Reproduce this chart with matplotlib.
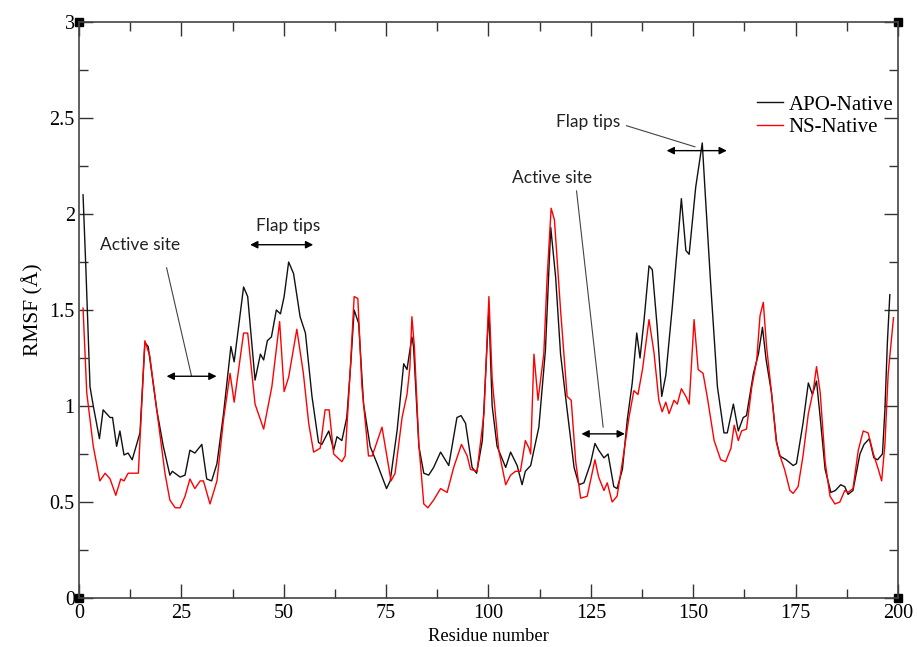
import matplotlib
matplotlib.use("Agg")
import matplotlib.pyplot as plt
from matplotlib.ticker import MultipleLocator

# values (residue, RMSF in Angstrom)
apo_res = [1.0, 1.7, 2.7, 3.5, 5.0, 5.9, 7.6, 8.2, 9.2, 10.0, 11.0, 12.0, 13.0, 14.9,
           16.1, 16.9, 19.0, 20.6, 22.2, 22.8, 24.7, 25.9, 27.1, 28.3, 30.0, 31.2,
           32.4, 33.7, 35.3, 37.1, 37.9, 40.2, 41.2, 43.0, 44.3, 45.1, 46.0, 47.0,
           48.2, 49.2, 50.1, 51.2, 52.4, 54.0, 55.3, 56.9, 58.5, 59.3, 61.0, 62.2,
           63.0, 64.2, 65.4, 66.4, 67.2, 68.3, 69.5, 71.1, 72.8, 75.1, 76.0, 77.7,
           79.3, 80.1, 81.3, 81.7, 83.0, 84.2, 85.4, 86.6, 88.3, 90.3, 92.3, 93.3,
           94.4, 96.0, 97.1, 98.5, 99.7, 100.1, 100.9, 102.1, 104.2, 105.4, 107.0,
           108.2, 109.0, 110.3, 112.3, 113.9, 115.2, 116.4, 117.6, 119.2, 120.9,
           122.1, 123.3, 124.9, 126.0, 126.9, 128.2, 129.2, 130.6, 131.4, 132.7,
           133.9, 135.1, 136.2, 137.0, 138.0, 139.2, 140.0, 141.2, 142.3, 143.3,
           144.9, 147.1, 148.2, 149.0, 150.6, 152.2, 153.0, 154.3, 155.9, 157.5,
           158.3, 159.8, 161.0, 162.2, 163.0, 164.7, 165.9, 166.9, 167.8, 169.1,
           170.3, 171.1, 172.7, 174.4, 175.2, 176.8, 178.1, 179.1, 180.1, 181.0,
           182.2, 183.6, 184.7, 186.0, 187.0, 187.8, 189.0, 190.7, 191.7, 193.0,
           194.1, 195.0, 196.2, 196.8, 197.4, 198.0]
apo_rmsf = [2.10, 1.71, 1.10, 1.00, 0.83, 0.98, 0.94, 0.94, 0.79, 0.87, 0.745, 0.755, 0.72, 0.86,
            1.33, 1.31, 0.98, 0.79, 0.64, 0.66, 0.63, 0.64, 0.77, 0.755, 0.80, 0.62,
            0.61, 0.70, 0.96, 1.31, 1.23, 1.62, 1.57, 1.135, 1.27, 1.24, 1.34, 1.36,
            1.50, 1.48, 1.57, 1.75, 1.69, 1.465, 1.38, 1.05, 0.81, 0.80, 0.87, 0.77,
            0.84, 0.82, 0.94, 1.23, 1.50, 1.43, 1.01, 0.79, 0.70, 0.57, 0.61, 0.875,
            1.22, 1.19, 1.36, 1.31, 0.79, 0.65, 0.64, 0.68, 0.76, 0.69, 0.94, 0.95,
            0.91, 0.68, 0.65, 0.82, 1.34, 1.50, 1.00, 0.79, 0.68, 0.76, 0.69,
            0.59, 0.66, 0.69, 0.89, 1.29, 1.93, 1.67, 1.27, 0.98, 0.68,
            0.59, 0.60, 0.70, 0.805, 0.77, 0.73, 0.75, 0.58, 0.57, 0.67,
            0.93, 1.12, 1.38, 1.25, 1.45, 1.73, 1.71, 1.41, 1.05, 1.16,
            1.52, 2.08, 1.81, 1.79, 2.14, 2.37, 2.08, 1.62, 1.10, 0.86,
            0.86, 1.01, 0.87, 0.94, 0.95, 1.17, 1.27, 1.41, 1.24, 1.07,
            0.82, 0.74, 0.72, 0.69, 0.70, 0.91, 1.12, 1.06, 1.13, 0.94,
            0.67, 0.55, 0.56, 0.59, 0.58, 0.54, 0.56, 0.75, 0.80, 0.83,
            0.73, 0.72, 0.75, 0.98, 1.33, 1.58]

ns_res = [1.0, 1.9, 3.5, 5.1, 6.4, 7.6, 9.0, 10.2, 11.0, 12.0, 14.5, 16.1, 17.3, 19.0,
          21.0, 22.2, 23.5, 24.7, 25.9, 27.1, 28.3, 29.6, 30.4, 32.0, 33.7, 35.3,
          36.9, 37.9, 40.2, 41.2, 43.0, 45.1, 47.1, 49.0, 50.1, 51.2, 53.2, 54.8,
          56.1, 57.3, 58.9, 60.1, 61.1, 62.2, 64.2, 65.0, 66.2, 67.2, 68.1, 69.1,
          70.7, 71.6, 74.0, 76.2, 77.2, 78.9, 80.1, 80.8, 81.3, 81.9, 83.0, 84.2,
          85.2, 86.6, 88.3, 89.9, 91.5, 93.4, 94.8, 95.6, 97.2, 98.9, 100.1, 100.9,
          102.5, 104.2, 105.4, 106.6, 107.8, 109.0, 109.9, 110.3, 111.1, 112.1,
          113.5, 114.3, 115.3, 116.1, 117.6, 119.2, 120.2, 121.3, 122.5, 124.1,
          126.0, 126.9, 128.2, 129.0, 130.2, 131.4, 133.0, 134.3, 135.5, 136.5,
          137.6, 139.2, 140.4, 141.6, 142.4, 143.3, 144.1, 145.3, 146.1, 147.1,
          148.2, 149.0, 150.2, 151.2, 152.4, 153.4, 155.1, 156.7, 157.9, 159.2,
          160.0, 161.0, 161.8, 163.0, 164.3, 165.5, 166.3, 167.1, 167.9, 169.1,
          170.3, 171.5, 172.3, 173.6, 174.4, 175.6, 176.8, 178.1, 179.3, 180.1,
          181.0, 182.2, 183.4, 184.6, 185.8, 187.0, 187.8, 189.0, 190.3, 191.5,
          192.7, 194.0, 195.2, 196.0, 196.8, 197.6, 198.9]
ns_rmsf = [1.51, 1.07, 0.79, 0.61, 0.65, 0.62, 0.535, 0.62, 0.61, 0.65, 0.65, 1.34, 1.26, 0.98,
           0.65, 0.51, 0.47, 0.47, 0.53, 0.62, 0.57, 0.61, 0.61, 0.49, 0.61, 0.93,
           1.17, 1.02, 1.38, 1.38, 1.01, 0.88, 1.10, 1.44, 1.075, 1.15, 1.40, 1.17,
           0.91, 0.76, 0.78, 0.98, 0.98, 0.75, 0.71, 0.74, 1.17, 1.57, 1.56, 1.10,
           0.74, 0.74, 0.89, 0.61, 0.65, 0.94, 1.06, 1.20, 1.465, 1.31, 0.80, 0.49,
           0.47, 0.51, 0.57, 0.55, 0.68, 0.80, 0.74, 0.67, 0.66, 0.96, 1.57, 1.14,
           0.77, 0.59, 0.64, 0.66, 0.66, 0.82, 0.78, 0.75, 1.27, 1.03,
           1.27, 1.66, 2.03, 1.97, 1.50, 1.05, 1.03, 0.71, 0.52, 0.53,
           0.72, 0.63, 0.56, 0.60, 0.50, 0.53, 0.75, 0.94, 1.08, 1.06,
           1.19, 1.45, 1.28, 1.03, 0.97, 1.02, 0.96, 1.03, 1.01, 1.09,
           1.05, 1.01, 1.45, 1.19, 1.17, 1.05, 0.82, 0.72, 0.71, 0.78,
           0.90, 0.82, 0.87, 0.88, 1.10, 1.24, 1.47, 1.54, 1.31, 1.07,
           0.81, 0.72, 0.67, 0.56, 0.545, 0.58, 0.74, 0.96, 1.08, 1.205,
           1.07, 0.71, 0.53, 0.49, 0.50, 0.56, 0.55, 0.57, 0.77, 0.87,
           0.86, 0.75, 0.67, 0.61, 0.80, 1.17, 1.46]

# annotations: label, text position, pointer line (start, end), arrow span (x0, x1, y)
notes = [
    ("Active site", (14.9, 1.84), (21.4, 1.72), (27.5, 1.155), (21.4, 33.6, 1.155)),
    ("Flap tips", (51.0, 1.94), None, None, (41.8, 57.2, 1.84)),
    ("Active site", (115.5, 2.19), (121.5, 2.12), (128.0, 0.89), (122.7, 133.3, 0.855)),
    ("Flap tips", (124.3, 2.48), (133.7, 2.46), (150.4, 2.35), (143.5, 158.2, 2.33)),
]

plt.rcParams["font.family"] = ["Liberation Serif", "DejaVu Serif"]

fig = plt.figure(figsize=(9.17, 6.47), dpi=100)
ax = fig.add_axes([0.0861, 0.0757, 0.8932, 0.8903])

ax.plot(apo_res, apo_rmsf, color="#111111", lw=1.0, label="APO-Native")
ax.plot(ns_res, ns_rmsf, color="red", lw=1.0, label="NS-Native")

ax.set_xlim(0, 200)
ax.set_ylim(0, 3)
ax.xaxis.set_major_locator(MultipleLocator(25))
ax.xaxis.set_minor_locator(MultipleLocator(12.5))
ax.yaxis.set_major_locator(MultipleLocator(0.5))
ax.yaxis.set_minor_locator(MultipleLocator(0.25))
ax.yaxis.set_major_formatter(plt.FuncFormatter(lambda v, p: f"{v:g}"))
ax.tick_params(which="both", direction="in", top=True, right=True,
               labelsize=14.5, color="#333333")
ax.tick_params(which="major", length=10, width=1)
ax.tick_params(which="minor", length=6.5, width=1)
ax.tick_params(axis="y", pad=3)
ax.tick_params(axis="x", pad=4)
for s in ax.spines.values():
    s.set_color("#444444")
    s.set_linewidth(1.2)

ax.set_xlabel("Residue number", fontsize=13.3, labelpad=4)
ax.set_ylabel("RMSF (Å)", fontsize=15.5, labelpad=4)

# corner squares
ax.plot([0, 0, 1, 1], [0, 1, 0, 1], "s", color="black", ms=6,
        transform=ax.transAxes, clip_on=False)

leg = ax.legend(loc="upper left", bbox_to_anchor=(0.828, 0.873), frameon=False,
                borderaxespad=0, borderpad=0,
                fontsize=15, handlelength=1.25, handletextpad=0.25, labelspacing=0.15)

for label, txt_xy, p0, p1, (a0, a1, ay) in notes:
    ax.text(txt_xy[0], txt_xy[1], label, ha="center", va="center",
            fontsize=12.5, family=["Lato", "DejaVu Sans"], color="#222222")
    if p0 is not None:
        ax.plot([p0[0], p1[0]], [p0[1], p1[1]], color="#444444", lw=0.8)
    ax.annotate("", xy=(a1, ay), xytext=(a0, ay),
                arrowprops=dict(arrowstyle="<|-|>", color="black", lw=1.0,
                                mutation_scale=11, shrinkA=0, shrinkB=0))

fig.savefig("out.png", dpi=100)
